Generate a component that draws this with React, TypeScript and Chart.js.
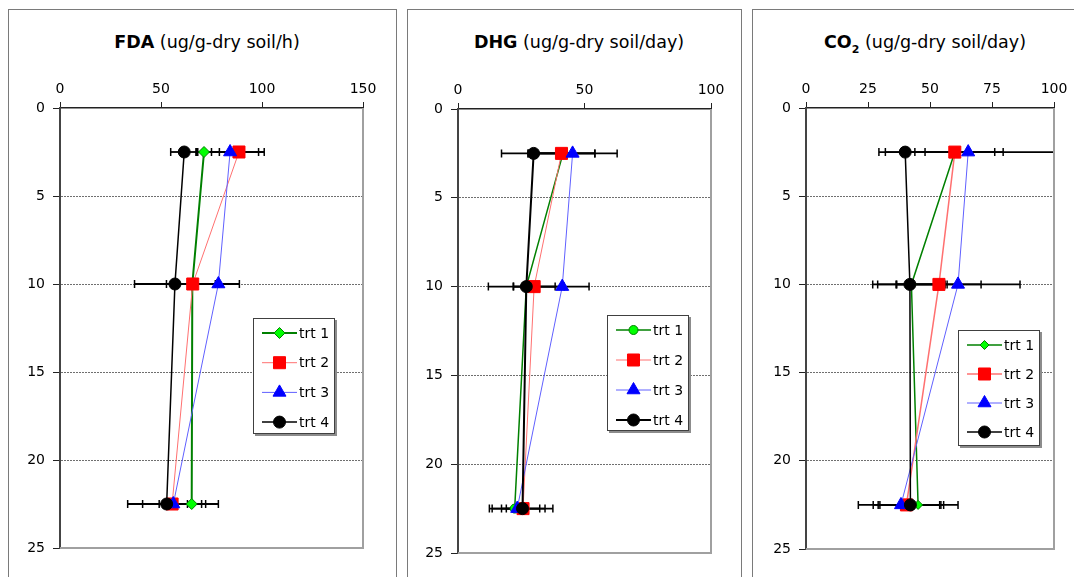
import React, { useEffect, useRef } from "react";
import { Chart, registerables } from "chart.js";

Chart.register(...registerables);

// ---------- data ----------
const depths = [2.5, 10, 22.5];
const seriesNames = ["trt 1", "trt 2", "trt 3", "trt 4"];
const depthTicks = [0, 5, 10, 15, 20, 25];

// FDA (ug/g-dry soil/h)
const fdaTicks = [0, 50, 100, 150];
const fdaTrt1 = [71.3, 65.5, 65.2];
const fdaTrt2 = [88.6, 65.7, 55.5];
const fdaTrt3 = [84.2, 78.4, 56.1];
const fdaTrt4 = [61.5, 56.9, 52.8];
const fdaErr1 = [3.7, 1.5, 13.2];
const fdaErr2 = [9.7, 13, 14.6];
const fdaErr3 = [16.9, 10.4, 7];
const fdaErr4 = [6.7, 20, 19.3];

// DHG (ug/g-dry soil/day)
const dhgTicks = [0, 50, 100];
const dhgTrt1 = [41.5, 27.0, 22.4];
const dhgTrt2 = [40.9, 30.1, 25.7];
const dhgTrt3 = [45.3, 41.2, 23.4];
const dhgTrt4 = [29.9, 27.0, 25.5];
const dhgErr1 = [12.6, 5, 5.2];
const dhgErr2 = [13.2, 8.3, 6.6];
const dhgErr3 = [17.6, 10.6, 11];
const dhgErr4 = [12.7, 15, 12];

// CO2 (ug/g-dry soil/day)
const co2Ticks = [0, 25, 50, 75, 100];
const co2Trt1 = [60.0, 42.5, 45.2];
const co2Trt2 = [60.0, 53.6, 40.5];
const co2Trt3 = [65.4, 61.3, 38.3];
const co2Trt4 = [40.0, 41.9, 42.1];
const co2Err1 = [19.5, 13.6, 16.1];
const co2Err2 = [16.1, 17, 13.4];
const co2Err3 = [36, 25, 17.2];
const co2Err4 = [8, 15, 12.3];

// ---------- styles ----------
const FONT = "'DejaVu Sans', 'Liberation Sans', Arial, sans-serif";
const lineColors = ["#008000", "#ff7070", "#6060ff", "#000000"];
const fillColors = ["#00ff00", "#ff0000", "#0000ff", "#000000"];
const borderColors = ["#008000", "#ff0000", "#0000ff", "#000000"];
const baseShapes = ["rectRot", "rect", "triangle", "circle"];
const baseRadius = [5.5, 8.5, 7.5, 6];

type PanelCfg = {
  key: string;
  frameLeft: number;
  frameWidth: number;
  plotL: number;
  plotR: number;
  plotT: number;
  plotB: number;
  xMax: number;
  xTicks: number[];
  values: number[][];
  errors: number[][];
  lineWidths: number[];
  trt1Shape: string;
  trt1Radius: number;
  legendX: number; // relative to plot left
  legendY: number; // relative to plot top
  legendGap: number;
  title: React.ReactNode;
  titleCx: number;
};

const panels: PanelCfg[] = [
  {
    key: "fda",
    frameLeft: 8,
    frameWidth: 389,
    plotL: 60,
    plotR: 363,
    plotT: 108,
    plotB: 548,
    xMax: 150,
    xTicks: fdaTicks,
    values: [fdaTrt1, fdaTrt2, fdaTrt3, fdaTrt4],
    errors: [fdaErr1, fdaErr2, fdaErr3, fdaErr4],
    lineWidths: [2, 1, 1, 1.5],
    trt1Shape: "rectRot",
    trt1Radius: 5.5,
    legendX: 193,
    legendY: 210,
    legendGap: 29.7,
    title: (
      <>
        <b>FDA</b> (ug/g-dry soil/h)
      </>
    ),
    titleCx: 207,
  },
  {
    key: "dhg",
    frameLeft: 407,
    frameWidth: 335,
    plotL: 458,
    plotR: 711,
    plotT: 109,
    plotB: 553,
    xMax: 100,
    xTicks: dhgTicks,
    values: [dhgTrt1, dhgTrt2, dhgTrt3, dhgTrt4],
    errors: [dhgErr1, dhgErr2, dhgErr3, dhgErr4],
    lineWidths: [1.5, 1, 1, 2],
    trt1Shape: "circle",
    trt1Radius: 4.5,
    legendX: 149,
    legendY: 206,
    legendGap: 30,
    title: (
      <>
        <b>DHG</b> (ug/g-dry soil/day)
      </>
    ),
    titleCx: 579,
  },
  {
    key: "co2",
    frameLeft: 752,
    frameWidth: 340,
    plotL: 806,
    plotR: 1054,
    plotT: 108,
    plotB: 549,
    xMax: 100,
    xTicks: co2Ticks,
    values: [co2Trt1, co2Trt2, co2Trt3, co2Trt4],
    errors: [co2Err1, co2Err2, co2Err3, co2Err4],
    lineWidths: [1.5, 1.5, 1, 1.5],
    trt1Shape: "rectRot",
    trt1Radius: 4.5,
    legendX: 152,
    legendY: 222,
    legendGap: 29,
    title: (
      <>
        <b>
          CO<sub style={{ fontSize: "11px" }}>2</sub>
        </b>{" "}
        (ug/g-dry soil/day)
      </>
    ),
    titleCx: 925,
  },
];

const CANVAS_TOP = 60;
const Y_AXIS_W = 60;
const RIGHT_PAD = 25;
const PAGE_H = 577;

function drawMarker(
  ctx: CanvasRenderingContext2D,
  shape: string,
  x: number,
  y: number,
  r: number,
  fill: string,
  stroke: string
) {
  ctx.save();
  ctx.beginPath();
  if (shape === "circle") {
    ctx.arc(x, y, r, 0, Math.PI * 2);
  } else if (shape === "rect") {
    const s = Math.SQRT1_2 * r;
    ctx.rect(x - s, y - s, 2 * s, 2 * s);
  } else if (shape === "triangle") {
    ctx.moveTo(x, y - r);
    ctx.lineTo(x + Math.sin((2 * Math.PI) / 3) * r, y + r / 2);
    ctx.lineTo(x - Math.sin((2 * Math.PI) / 3) * r, y + r / 2);
    ctx.closePath();
  } else if (shape === "rectRot") {
    ctx.moveTo(x - r, y);
    ctx.lineTo(x, y - r);
    ctx.lineTo(x + r, y);
    ctx.lineTo(x, y + r);
    ctx.closePath();
  }
  ctx.fillStyle = fill;
  ctx.fill();
  ctx.strokeStyle = stroke;
  ctx.lineWidth = 1;
  ctx.stroke();
  ctx.restore();
}

function ChartPanel({ cfg }: { cfg: PanelCfg }) {
  const ref = useRef<HTMLCanvasElement | null>(null);
  const canvasLeft = cfg.plotL - Y_AXIS_W;
  const canvasW = cfg.plotR - cfg.plotL + Y_AXIS_W + RIGHT_PAD;
  const canvasH = PAGE_H - CANVAS_TOP;

  useEffect(() => {
    if (!ref.current) return;
    const shapes = baseShapes.slice();
    const radii = baseRadius.slice();
    shapes[0] = cfg.trt1Shape;
    radii[0] = cfg.trt1Radius;

    const datasets = cfg.values.map((vals, i) => ({
      label: seriesNames[i],
      data: vals.map((v, k) => ({ x: v, y: depths[k] })),
      showLine: true,
      borderColor: lineColors[i],
      borderWidth: cfg.lineWidths[i],
      backgroundColor: fillColors[i],
      pointBackgroundColor: fillColors[i],
      pointBorderColor: borderColors[i],
      pointBorderWidth: 1,
      pointStyle: shapes[i],
      pointRadius: radii[i],
      pointHoverRadius: radii[i],
      tension: 0,
      order: 3 - i,
    }));

    const errorBars = {
      id: "errorBars",
      beforeDatasetsDraw(chart: any) {
        const { ctx, chartArea, scales } = chart;
        ctx.save();
        ctx.beginPath();
        ctx.rect(chartArea.left, chartArea.top, chartArea.right - chartArea.left, chartArea.bottom - chartArea.top);
        ctx.clip();
        ctx.strokeStyle = "#000";
        cfg.values.forEach((vals, i) => {
          vals.forEach((v, k) => {
            const e = cfg.errors[i][k];
            const y = scales.y.getPixelForValue(depths[k]);
            const x1 = scales.x.getPixelForValue(v - e);
            const x2 = scales.x.getPixelForValue(v + e);
            ctx.lineWidth = 1.8;
            ctx.beginPath();
            ctx.moveTo(x1, y);
            ctx.lineTo(x2, y);
            ctx.stroke();
            ctx.lineWidth = 1.5;
            ctx.beginPath();
            ctx.moveTo(x1, y - 4);
            ctx.lineTo(x1, y + 4);
            ctx.moveTo(x2, y - 4);
            ctx.lineTo(x2, y + 4);
            ctx.stroke();
          });
        });
        ctx.restore();
      },
    };

    const frameAndLegend = {
      id: "frameAndLegend",
      afterDraw(chart: any) {
        const { ctx, chartArea } = chart;
        ctx.save();
        // right & bottom plot-area border (grey)
        ctx.strokeStyle = "#a0a0a0";
        ctx.lineWidth = 2;
        ctx.beginPath();
        ctx.moveTo(chartArea.right, chartArea.top);
        ctx.lineTo(chartArea.right, chartArea.bottom);
        ctx.lineTo(chartArea.left, chartArea.bottom);
        ctx.stroke();

        // legend box
        const lx = chartArea.left + cfg.legendX;
        const ly = chartArea.top + cfg.legendY;
        const lw = 82;
        const lh = 116;
        ctx.fillStyle = "#8c8c8c";
        ctx.fillRect(lx + 2, ly + 2, lw, lh);
        ctx.fillStyle = "#ffffff";
        ctx.fillRect(lx, ly, lw, lh);
        ctx.strokeStyle = "#404040";
        ctx.lineWidth = 1;
        ctx.strokeRect(lx + 0.5, ly + 0.5, lw - 1, lh - 1);

        ctx.font = `14px ${FONT}`;
        ctx.textBaseline = "middle";
        ctx.textAlign = "left";
        for (let i = 0; i < 4; i++) {
          const yy = ly + 15 + i * cfg.legendGap;
          ctx.strokeStyle = lineColors[i];
          ctx.lineWidth = cfg.lineWidths[i];
          ctx.beginPath();
          ctx.moveTo(lx + 9, yy);
          ctx.lineTo(lx + 44, yy);
          ctx.stroke();
          drawMarker(ctx, shapes[i], lx + 26.5, yy, radii[i], fillColors[i], borderColors[i]);
          ctx.fillStyle = "#000";
          ctx.fillText(seriesNames[i], lx + 46, yy + 1);
        }
        ctx.restore();
      },
    };

    const chart = new Chart(ref.current, {
      type: "scatter",
      data: { datasets: datasets as any },
      options: {
        responsive: false,
        animation: false,
        maintainAspectRatio: false,
        layout: {
          padding: { left: 0, top: 0, right: RIGHT_PAD, bottom: PAGE_H - cfg.plotB },
        },
        plugins: {
          legend: { display: false },
          tooltip: { enabled: false },
          title: { display: false },
        },
        scales: {
          x: {
            type: "linear",
            position: "top",
            min: 0,
            max: cfg.xMax,
            afterBuildTicks: (s: any) => {
              s.ticks = cfg.xTicks.map((v) => ({ value: v }));
            },
            afterFit: (s: any) => {
              s.height = cfg.plotT - CANVAS_TOP;
            },
            ticks: {
              color: "#000",
              font: { family: FONT, size: 14 },
              padding: 4,
              maxRotation: 0,
              autoSkip: false,
            },
            grid: {
              drawOnChartArea: false,
              drawTicks: true,
              tickLength: 6,
              tickColor: "#222",
              tickWidth: 1,
            },
            border: { display: true, color: "#222", width: 1.5 },
          },
          y: {
            type: "linear",
            reverse: true,
            min: 0,
            max: 25,
            afterBuildTicks: (s: any) => {
              s.ticks = depthTicks.map((v) => ({ value: v }));
            },
            afterFit: (s: any) => {
              s.width = Y_AXIS_W;
            },
            ticks: {
              color: "#000",
              font: { family: FONT, size: 14 },
              padding: 8,
              autoSkip: false,
            },
            grid: {
              drawOnChartArea: true,
              drawTicks: true,
              tickLength: 7,
              tickColor: "#222",
              tickWidth: 1,
              lineWidth: 1,
              color: (c: any) =>
                c.tick && (c.tick.value === 0 || c.tick.value === 25) ? "rgba(0,0,0,0)" : "#6f6f6f",
            },
            border: { display: true, color: "#444", width: 2, dash: [2, 1] },
          },
        },
      },
      plugins: [errorBars, frameAndLegend],
    });
    return () => chart.destroy();
  }, [cfg]);

  return (
    <>
      <div
        style={{
          position: "absolute",
          left: cfg.frameLeft,
          top: 9,
          width: cfg.frameWidth,
          height: 640,
          border: "1px solid #7a7a7a",
          boxSizing: "border-box",
        }}
      />
      <div
        style={{
          position: "absolute",
          left: cfg.titleCx,
          top: 31,
          transform: "translateX(-50%)",
          whiteSpace: "nowrap",
          fontFamily: FONT,
          fontSize: "17.5px",
          lineHeight: "22px",
          color: "#000",
        }}
      >
        {cfg.title}
      </div>
      <canvas
        ref={ref}
        width={canvasW}
        height={canvasH}
        style={{ position: "absolute", left: canvasLeft, top: CANVAS_TOP, width: canvasW, height: canvasH }}
      />
    </>
  );
}

export default function App() {
  return (
    <div
      style={{
        position: "fixed",
        left: 0,
        top: 0,
        width: 1074,
        height: 577,
        overflow: "hidden",
        background: "#fff",
      }}
    >
      {panels.map((p) => (
        <ChartPanel key={p.key} cfg={p} />
      ))}
    </div>
  );
}
